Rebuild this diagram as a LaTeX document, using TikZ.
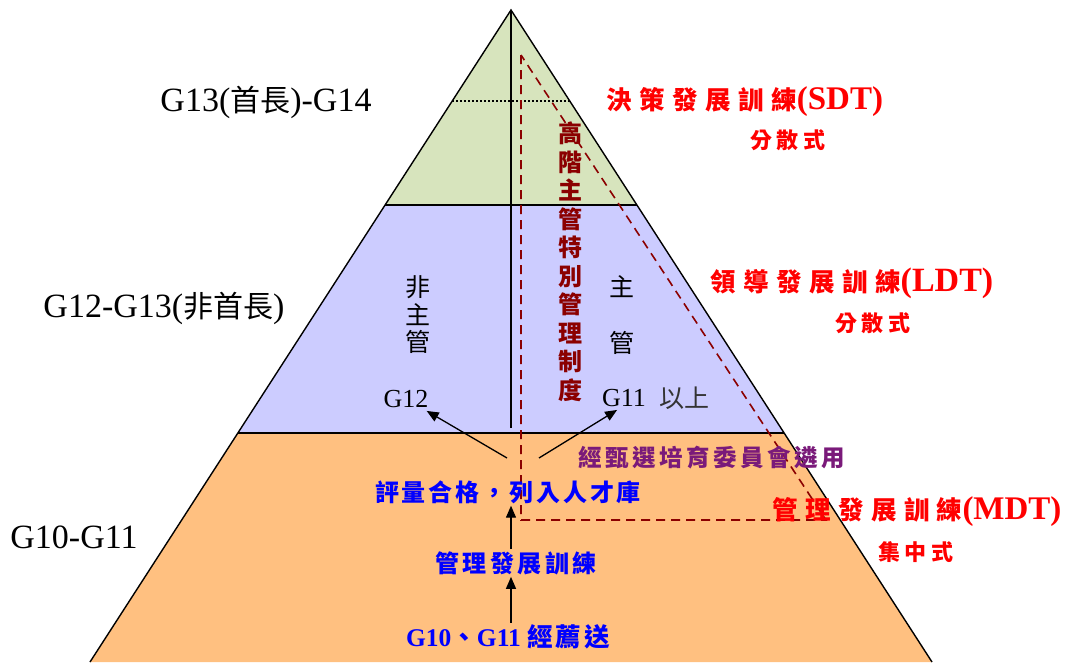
\documentclass[tikz,border=0pt]{standalone}
\usepackage{fontspec}
\setmainfont{Liberation Serif}
\newfontfamily\cjk{Noto Sans CJK TC}
\usetikzlibrary{arrows.meta}
\definecolor{pgreen}{HTML}{D7E4BD}
\definecolor{plav}{HTML}{CCCCFF}
\definecolor{porange}{HTML}{FFC080}
\definecolor{dred}{HTML}{8B0000}
\definecolor{dpurple}{HTML}{7A1A7A}
\definecolor{pblue}{HTML}{0000FF}
\definecolor{pred}{HTML}{FF0000}
\newcommand\zhs[2]{{\cjk\addfontfeature{LetterSpace=#1}#2}}
\tikzset{
  lbl/.style={inner sep=0pt, anchor=center},
  band/.style={draw=black, line width=1.4pt},
  arr/.style={-{Triangle[length=12pt,width=10pt]}, line width=1.3pt, black},
  dashtri/.style={draw=dred, line width=1.6pt, dash pattern=on 9pt off 6pt},
}
\begin{document}
\begin{tikzpicture}[x=1pt,y=-1pt]
\useasboundingbox (0,0) rectangle (1080,662);
% pyramid geometry
\coordinate (A) at (511,10);
\coordinate (BL) at (90,662);
\coordinate (BR) at (932,662);
\coordinate (L1) at (385,205);
\coordinate (R1) at (637,205);
\coordinate (L2) at (238,433);
\coordinate (R2) at (784,433);
\coordinate (DL) at (452,101);
\coordinate (DR) at (570,101);
% fills
\fill[pgreen] (A) -- (R1) -- (L1) -- cycle;
\fill[plav] (L1) -- (R1) -- (R2) -- (L2) -- cycle;
\fill[porange] (L2) -- (R2) -- (BR) -- (BL) -- cycle;
% band lines
\draw[band] (L1) -- (R1);
\draw[band] (L2) -- (R2);
\draw[line width=1.3pt, dash pattern=on 1.5pt off 2.5pt] (DL) -- (DR);
% vertical divider
\coordinate (V) at (511,428);
\draw[line width=1.5pt] (A) -- (V);
% outline
\draw[line width=1.4pt] (BL) -- (A) -- (BR);
% dashed triangle
\coordinate (T1) at (521,55);
\coordinate (T2) at (521,520);
\coordinate (T3) at (826,520);
\draw[dashtri] (T1) -- (T2) -- (T3) -- cycle;

% left labels
\node[lbl] (lg13) at (266,102) {\fontsize{34}{38}\selectfont G13({\cjk\fontsize{30}{34}\selectfont 首長})-G14};
\node[lbl] (lg12) at (164,308) {\fontsize{34}{38}\selectfont G12-G13({\cjk\fontsize{30}{34}\selectfont 非首長})};
\node[lbl] (lg10) at (74,537) {\fontsize{34}{38}\selectfont G10-G11};

% vertical dark red text
\node[lbl, text=dred, align=center, font={\fontsize{24}{28.5}\selectfont\bfseries\cjk}] (vt) at (570,262) {高\\階\\主\\管\\特\\別\\管\\理\\制\\度};

% non-manager / manager
\node[lbl, align=center, font={\fontsize{25}{27.5}\selectfont\cjk}] (nm) at (418,315) {非\\主\\管};
\node[lbl, align=center, font={\fontsize{25}{56}\selectfont\cjk}] (mg) at (622,315) {主\\管};
\node[inner sep=3pt] (g12) at (406,399) {\fontsize{26}{30}\selectfont G12};
\node[inner sep=3pt] (g11) at (624,398) {\fontsize{26}{30}\selectfont G11};
\node[lbl, text=black!80] (ys) at (684,398) {\fontsize{25}{30}\selectfont\cjk 以上};

% orange band texts
\node[lbl, text=dpurple] (sel) at (712,458) {\fontsize{23.5}{28}\selectfont\bfseries\zhs{15}{經甄選培育委員會遴用}};
\node[inner sep=2pt, text=pblue] (pool) at (508,492) {\fontsize{24}{28}\selectfont\bfseries\zhs{12}{評量合格，列入人才庫}};
\node[inner sep=2pt, text=pblue] (mtr) at (516,563) {\fontsize{24}{28}\selectfont\bfseries\zhs{14}{管理發展訓練}};
\node[inner sep=2pt, text=pblue] (g1011) at (508,637) {\fontsize{25.5}{30}\selectfont\bfseries G10{\cjk 、}G11 \zhs{12}{經薦送}};

% arrows
\coordinate (s1) at (507,458);
\coordinate (s2) at (539,458);
\draw[arr] (s1) -- (g12.330);
\draw[arr] (s2) -- (g11.240);
\draw[arr] (g1011.north -| A) -- (mtr.south -| A);
\draw[arr] (mtr.north -| A) -- (pool.south -| A);

% right red labels
\node[lbl, text=pred] (sdt) at (745,102) {\fontsize{25.5}{30}\selectfont\bfseries\zhs{29}{決策發展訓練}{\fontsize{33}{36}\selectfont(SDT)}};
\node[lbl, text=pred] (sdt2) at (788,140) {\fontsize{22}{26}\selectfont\bfseries\zhs{20}{分散式}};
\node[lbl, text=pred] (ldt) at (852,283) {\fontsize{25.5}{30}\selectfont\bfseries\zhs{29}{領導發展訓練}{\fontsize{34}{36}\selectfont(LDT)}};
\node[lbl, text=pred] (ldt2) at (873,323) {\fontsize{22}{26}\selectfont\bfseries\zhs{20}{分散式}};
\node[lbl, text=pred] (mdt) at (917,512) {\fontsize{25.5}{30}\selectfont\bfseries\zhs{29}{管理發展訓練}{\fontsize{33}{36}\selectfont(MDT)}};
\node[lbl, text=pred] (mdt2) at (916,552) {\fontsize{22}{26}\selectfont\bfseries\zhs{20}{集中式}};
\end{tikzpicture}
\end{document}
